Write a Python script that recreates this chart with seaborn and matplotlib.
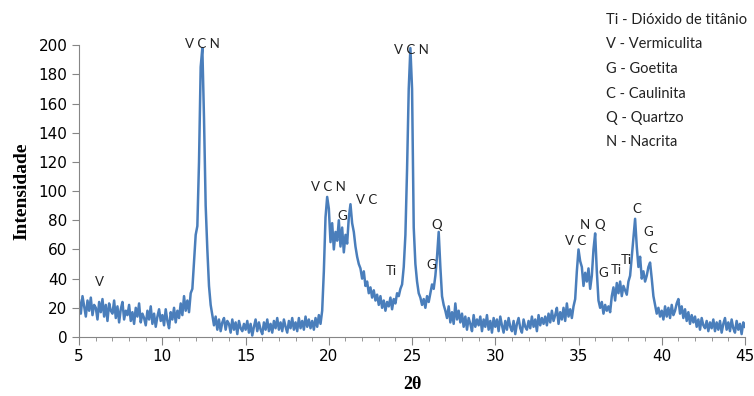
import numpy as np
import pandas as pd
import seaborn as sns
import matplotlib.pyplot as plt
from matplotlib.ticker import MultipleLocator

# intensity, 0.1 degree steps from 5 to 45
two_theta = np.round(np.arange(5.0, 45.01, 0.1), 1)
intensity = [
    25, 16, 28, 21, 14, 25, 18, 27, 15, 22,        # 5
    20, 12, 24, 17, 26, 14, 22, 11, 23, 18,        # 6
    16, 25, 13, 21, 10, 19, 24, 12, 18, 15,        # 7
    22, 11, 17, 9, 20, 14, 23, 10, 16, 13,         # 8
    8, 18, 12, 21, 9, 16, 7, 14, 19, 11,           # 9
    15, 8, 19, 11, 6, 17, 12, 20, 10, 18,          # 10
    13, 23, 15, 28, 18, 25, 17, 30, 33, 52,        # 11
    70, 76, 120, 185, 198, 150, 90, 60, 35, 22,    # 12
    15, 8, 14, 5, 12, 4, 10, 13, 5, 11,            # 13
    9, 3, 12, 5, 10, 2, 11, 6, 4, 9,               # 14
    5, 11, 3, 9, 1, 7, 12, 4, 10, 5,               # 15
    2, 10, 5, 12, 4, 9, 3, 11, 6, 13,              # 16
    5, 10, 4, 12, 7, 3, 11, 6, 13, 5,              # 17
    10, 4, 13, 6, 11, 5, 14, 7, 12, 6,             # 18
    11, 5, 13, 7, 15, 9, 18, 45, 82, 96,           # 19
    88, 65, 78, 60, 72, 66, 80, 62, 75, 58,        # 20
    70, 64, 82, 91, 78, 72, 62, 55, 50, 47,        # 21
    40, 45, 35, 38, 30, 34, 27, 32, 25, 29,        # 22
    22, 28, 20, 25, 18, 24, 21, 27, 19, 26,        # 23
    23, 30, 28, 33, 36, 48, 70, 115, 170, 198,     # 24
    170, 75, 50, 38, 30, 27, 22, 26, 20, 28,       # 25
    24, 30, 36, 33, 42, 55, 72, 48, 28, 22,        # 26
    18, 13, 21, 10, 17, 9, 23, 12, 18, 10,         # 27
    16, 7, 14, 5, 13, 9, 4, 15, 7, 12,             # 28
    8, 14, 4, 12, 7, 15, 5, 11, 3, 13,             # 29
    7, 12, 4, 14, 8, 3, 11, 5, 13, 7,              # 30
    4, 11, 2, 9, 13, 6, 3, 12, 7, 5,               # 31
    11, 6, 14, 7, 12, 4, 15, 8, 13, 9,             # 32
    14, 8, 16, 10, 18, 11, 15, 20, 9, 17,          # 33
    12, 20, 11, 23, 14, 19, 13, 21, 26, 45,        # 34
    60, 52, 48, 35, 44, 38, 47, 33, 42, 60,        # 35
    71, 45, 25, 20, 24, 16, 22, 18, 21, 17,        # 36
    28, 34, 25, 37, 30, 38, 28, 35, 32, 29,        # 37
    38, 42, 55, 68, 81, 62, 48, 55, 40, 45,        # 38
    38, 42, 48, 51, 40, 28, 22, 16, 20, 14,        # 39
    18, 12, 21, 14, 20, 13, 22, 15, 18, 23,        # 40
    26, 16, 21, 13, 19, 11, 17, 9, 15, 10,         # 41
    14, 7, 12, 5, 13, 8, 6, 11, 4, 10,             # 42
    6, 12, 4, 10, 5, 11, 3, 9, 13, 5,              # 43
    10, 4, 12, 6, 3, 11, 5, 9, 2, 10,              # 44
    7,                                             # 45
]

# phase labels above the peaks
peak_labels = ["V", "V C N", "V C N", "G", "V C", "Ti", "V C N", "G", "Q",
               "V C", "N", "Q", "G", "Ti", "Ti", "C", "G", "C"]
peak_x = [6.2, 12.4, 19.95, 20.8, 22.3, 23.75, 24.95, 26.15, 26.5,
          34.85, 35.4, 36.3, 36.5, 37.25, 37.85, 38.5, 39.2, 39.45]
peak_y = [38, 201, 103, 83, 94, 45, 197, 49, 77,
          66, 77, 77, 44, 46, 53, 88, 72, 60]

legend_lines = ["Ti - Dióxido de titânio", "V - Vermiculita", "G - Goetita",
                "C - Caulinita", "Q - Quartzo", "N - Nacrita"]

df = pd.DataFrame({"2θ": two_theta, "Intensidade": intensity})

fig = plt.figure(figsize=(7.54, 3.96), dpi=100)
ax = fig.add_axes([0.105, 0.149, 0.883, 0.737])
sns.lineplot(data=df, x="2θ", y="Intensidade", ax=ax, color="#4a7ebb", linewidth=1.8)

ax.set_xlim(5, 45)
ax.set_ylim(0, 200)
ax.set_xticks(range(5, 46, 5))
ax.set_yticks(range(0, 201, 20))
ax.xaxis.set_minor_locator(MultipleLocator(1))
ax.tick_params(axis="x", which="major", length=6, color="#868686", labelsize=11, pad=3)
ax.tick_params(axis="x", which="minor", length=3, color="#868686")
ax.tick_params(axis="y", length=5, color="#868686", labelsize=11)
for lab in ax.get_xticklabels() + ax.get_yticklabels():
    lab.set_family("Liberation Sans Narrow")
for s in ["top", "right"]:
    ax.spines[s].set_visible(False)
for s in ["left", "bottom"]:
    ax.spines[s].set_color("#868686")

ax.set_xlabel("2θ", family="Liberation Serif", fontweight="bold", fontsize=13, labelpad=8)
ax.set_ylabel("Intensidade", family="Liberation Serif", fontweight="bold", fontsize=14, labelpad=6)

for t, x, y in zip(peak_labels, peak_x, peak_y):
    ax.text(x, y, t, ha="center", va="center", fontsize=9.5, family="Lato", color="#222222")

for i, t in enumerate(legend_lines):
    fig.text(0.804, 1 - (20 + 24.5 * i) / 396, t, ha="left", va="center",
             fontsize=10.5, family="Lato", color="#222222")

fig.savefig("out.png", dpi=100)
